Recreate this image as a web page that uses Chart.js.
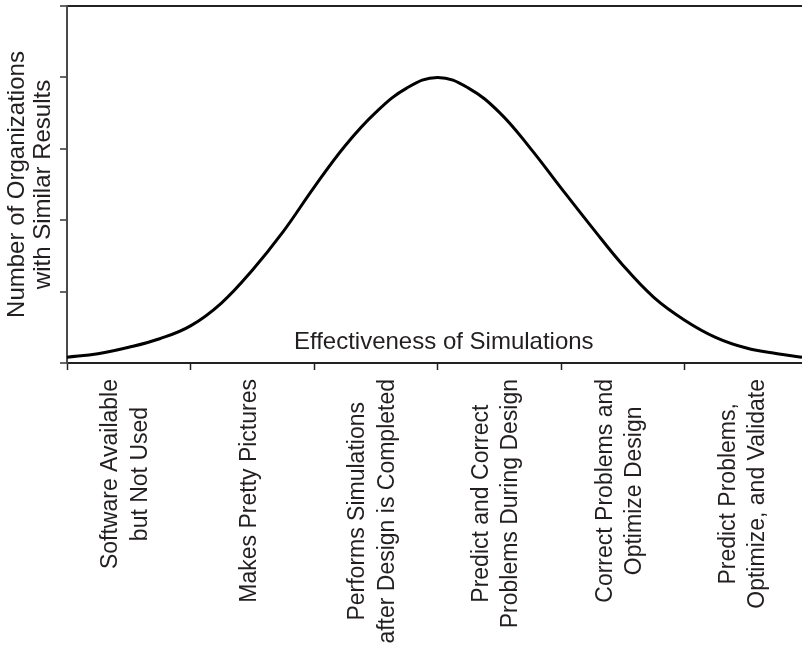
<!DOCTYPE html>
<html><head><meta charset="utf-8">
<script src="https://cdn.jsdelivr.net/npm/chart.js@4.4.0/dist/chart.umd.min.js"></script>
<style>html,body{margin:0;padding:0;background:#fff;overflow:hidden}</style>
</head><body>
<canvas id="c" width="802" height="645"></canvas>
<script>
// ---- data ----
const categories = [
  ['Software Available', 'but Not Used'],
  ['Makes Pretty Pictures'],
  ['Performs Simulations', 'after Design is Completed'],
  ['Predict and Correct', 'Problems During Design'],
  ['Correct Problems and', 'Optimize Design'],
  ['Predict Problems,', 'Optimize, and Validate']
];
const labelPositions = [0.5, 1.5, 2.5, 3.5, 4.5, 5.5];
const boundaryTicks = [0, 1, 2, 3, 4, 5];
const yTickValues = [0, 1, 2, 3, 4, 5];
const yTitle = ['Number of Organizations', 'with Similar Results'];
const innerTitle = 'Effectiveness of Simulations';

const xValues = [0.00, 0.25, 0.50, 0.75, 1.00, 1.25, 1.50, 1.75, 2.00, 2.25, 2.50, 2.75, 3.00,
                 3.25, 3.50, 3.75, 4.00, 4.25, 4.50, 4.75, 5.00, 5.25, 5.50, 5.75, 5.95];
const yValues = [0.08, 0.13, 0.22, 0.34, 0.52, 0.84, 1.30, 1.84, 2.46, 3.04, 3.51, 3.85, 4.00,
                 3.85, 3.51, 3.01, 2.45, 1.90, 1.37, 0.92, 0.60, 0.36, 0.21, 0.13, 0.08];

// ---- styles ----
const FONT = '"Liberation Sans", Arial, Helvetica, sans-serif';
const TEXT = '#231f20';

const centerLabels = {
  id: 'centerLabels',
  beforeDraw(chart) {
    const scale = chart.scales.x;
    const items = scale.getLabelItems();
    const ctx = chart.ctx;
    items.forEach(it => {
      if (it._centered) return;
      it._centered = true;
      const lines = Array.isArray(it.label) ? it.label : [it.label];
      if (!lines.length || lines.join('') === '') return;
      ctx.save();
      ctx.font = it.font.string;
      const w = Math.max(...lines.map(l => ctx.measureText(l).width));
      ctx.restore();
      const lh = it.font.lineHeight;
      const tx = it.options.translation[0], ty = it.options.translation[1];
      it.options.textAlign = 'center';
      it.options.translation = [tx - (lines.length - 1) * lh / 2 - 3, ty + w / 2];
    });
  }
};

const innerTitlePlugin = {
  id: 'innerTitle',
  afterDatasetsDraw(chart) {
    const {ctx, scales: {x, y}} = chart;
    ctx.save();
    ctx.font = '24px ' + FONT;
    ctx.fillStyle = TEXT;
    ctx.textAlign = 'center';
    ctx.textBaseline = 'alphabetic';
    ctx.fillText(innerTitle, x.getPixelForValue(3.05), y.getPixelForValue(0.19));
    ctx.restore();
  }
};

new Chart(document.getElementById('c'), {
  type: 'line',
  data: {
    datasets: [{
      data: xValues.map((x, i) => ({x: x, y: yValues[i]})),
      borderColor: '#000',
      borderWidth: 3,
      pointRadius: 0,
      fill: false,
      tension: 0.4
    }]
  },
  options: {
    responsive: false,
    devicePixelRatio: 1,
    animation: false,
    layout: {padding: {top: 6, left: 0, right: 0, bottom: 0}},
    plugins: {legend: {display: false}, tooltip: {enabled: false}},
    scales: {
      x: {
        type: 'linear',
        min: 0,
        max: 5.95,
        afterBuildTicks(scale) {
          scale.ticks = boundaryTicks.concat(labelPositions).sort((a, b) => a - b).map(v => ({value: v}));
        },
        afterFit(scale) { scale.height = 282; scale.paddingLeft = 0; scale.paddingRight = 0; },
        border: {display: true, color: '#222', width: 2},
        grid: {
          drawOnChartArea: false,
          drawTicks: true,
          tickLength: 7,
          tickWidth: 1.5,
          color: 'rgba(0,0,0,0)',
          tickColor: (ctx) => (ctx.tick && Number.isInteger(ctx.tick.value)) ? '#222' : 'rgba(0,0,0,0)'
        },
        ticks: {
          autoSkip: false,
          maxRotation: 90,
          minRotation: 90,
          padding: 9,
          color: TEXT,
          font: {family: FONT, size: 23, lineHeight: 1.28},
          callback(value) {
            const i = labelPositions.indexOf(value);
            return i >= 0 ? categories[i] : '';
          }
        }
      },
      y: {
        type: 'linear',
        min: 0,
        max: 5,
        afterBuildTicks(scale) { scale.ticks = yTickValues.map(v => ({value: v})); },
        afterFit(scale) { scale.width = 67; },
        border: {display: true, color: '#4a4a4a', width: 2},
        grid: {
          drawOnChartArea: true,
          drawTicks: true,
          tickLength: 7,
          tickWidth: 1.5,
          lineWidth: 2,
          color: (ctx) => (ctx.tick && ctx.tick.value === 5) ? '#222' : 'rgba(0,0,0,0)',
          tickColor: '#333'
        },
        ticks: {display: false},
        title: {
          display: true,
          text: yTitle,
          color: TEXT,
          font: {family: FONT, size: 24, lineHeight: 1.1},
          padding: {top: 4, bottom: 0}
        }
      }
    }
  },
  plugins: [centerLabels, innerTitlePlugin]
});
</script>
</body></html>
